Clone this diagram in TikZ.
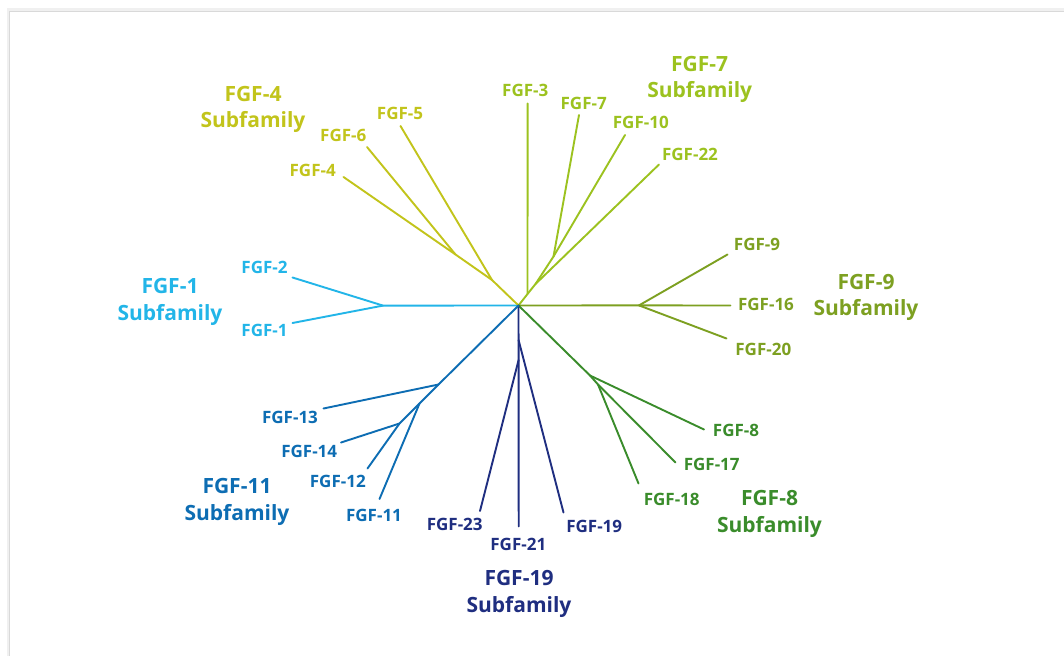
\documentclass[tikz,border=0pt]{standalone}
\usepackage{fontspec}
\setmainfont{Open Sans}[BoldFont={Open Sans Bold}]
\definecolor{cFa}{HTML}{22B5E8}
\definecolor{cFb}{HTML}{C2C41B}
\definecolor{cFc}{HTML}{9CC21F}
\definecolor{cFd}{HTML}{7DA021}
\definecolor{cFe}{HTML}{3A8C2B}
\definecolor{cFf}{HTML}{1F2E80}
\definecolor{cFg}{HTML}{0D6DB3}
\tikzset{
  br/.style={line width=1.9pt, line cap=round, line join=round},
  lab/.style={font=\bfseries\fontsize{17}{20}\selectfont, anchor=base, inner sep=0pt},
  fam/.style={font=\bfseries\fontsize{21}{26.5}\selectfont, anchor=base, align=center, inner sep=0pt},
}
\begin{document}
\begin{tikzpicture}[x=1pt,y=-1pt]
\useasboundingbox (0,0) rectangle (1064,655);
\fill[white] (0,0) rectangle (1064,655);
\draw[gray!12, line width=3pt] (8,657) -- (8,10) -- (1066,10);
\draw[gray!30, line width=0.6pt] (9.5,657) -- (9.5,11.5) -- (1066,11.5);
\fill[white] (10,12) rectangle (1064,655);

% root
\coordinate (root) at (518.5,305.5);

% FGF-1 subfamily
\coordinate (a1) at (383,305.6);
\coordinate (eF2) at (292.5,277.5);
\coordinate (eF1) at (292.5,323);
\draw[br,cFa] (root) -- (a1) -- (eF2);
\draw[br,cFa] (a1) -- (eF1);
\node[lab,text=cFa] (tF2) at (264.5,273) {FGF-2};
\node[lab,text=cFa] (tF1) at (264.5,336.5) {FGF-1};
\node[fam,text=cFa] (famA) at (170,320) {FGF-1\\Subfamily};

% FGF-4 subfamily
\coordinate (b2) at (492,280);
\coordinate (b1) at (455.5,254.5);
\coordinate (eF5) at (400.5,126);
\coordinate (eF6) at (367,147);
\coordinate (eF4) at (343.5,177);
\draw[br,cFb] (root) -- (b2) -- (b1) -- (eF4);
\draw[br,cFb] (b1) -- (eF6);
\draw[br,cFb] (b2) -- (eF5);
\node[lab,text=cFb] (tF5) at (400,120) {FGF-5};
\node[lab,text=cFb] (tF6) at (343.3,141.7) {FGF-6};
\node[lab,text=cFb] (tF4) at (312.7,176.7) {FGF-4};
\node[fam,text=cFb] (famB) at (253,127.7) {FGF-4\\Subfamily};

% FGF-7 subfamily
\coordinate (c0) at (527.5,294);
\coordinate (c1) at (535.5,284);
\coordinate (c2) at (553.5,256.5);
\coordinate (eF3) at (527.6,103.5);
\coordinate (eF7) at (579,115);
\coordinate (eF10) at (625,135);
\coordinate (eF22) at (659,164.5);
\draw[br,cFc] (root) -- (c0) -- (c1) -- (c2) -- (eF7);
\draw[br,cFc] (c0) -- (eF3);
\draw[br,cFc] (c2) -- (eF10);
\draw[br,cFc] (c1) -- (eF22);
\node[lab,text=cFc] (tF3) at (525.3,96.7) {FGF-3};
\node[lab,text=cFc] (tF7) at (583.7,110) {FGF-7};
\node[lab,text=cFc] (tF10) at (640.8,129) {FGF-10};
\node[lab,text=cFc] (tF22) at (690,160.7) {FGF-22};
\node[fam,text=cFc] (famC) at (699.7,97.7) {FGF-7\\Subfamily};

% FGF-9 subfamily
\coordinate (d1) at (639,305.4);
\coordinate (eF9) at (727.5,254.5);
\coordinate (eF16) at (730.5,305.5);
\coordinate (eF20) at (726.5,338.5);
\draw[br,cFd] (root) -- (d1) -- (eF16);
\draw[br,cFd] (d1) -- (eF9);
\draw[br,cFd] (d1) -- (eF20);
\node[lab,text=cFd] (tF9) at (757,250.7) {FGF-9};
\node[lab,text=cFd] (tF16) at (766,310.7) {FGF-16};
\node[lab,text=cFd] (tF20) at (763.3,355) {FGF-20};
\node[fam,text=cFd] (famD) at (866,315.7) {FGF-9\\Subfamily};

% FGF-8 subfamily
\coordinate (e1) at (590,375.5);
\coordinate (e2) at (598,384.5);
\coordinate (eF8) at (704,429.5);
\coordinate (eF17) at (675.5,462.5);
\coordinate (eF18) at (638.5,483.5);
\draw[br,cFe] (root) -- (e1) -- (e2) -- (eF18);
\draw[br,cFe] (e1) -- (eF8);
\draw[br,cFe] (e2) -- (eF17);
\node[lab,text=cFe] (tF8) at (736,436) {FGF-8};
\node[lab,text=cFe] (tF17) at (711.7,470) {FGF-17};
\node[lab,text=cFe] (tF18) at (671.7,505) {FGF-18};
\node[fam,text=cFe] (famE) at (769.5,532.3) {FGF-8\\Subfamily};

% FGF-19 subfamily
\coordinate (f1) at (518.55,340);
\coordinate (f2) at (518.6,360);
\coordinate (eF21) at (518.7,526.5);
\coordinate (eF19) at (563.5,512.5);
\coordinate (eF23) at (480,511);
\draw[br,cFf] (root) -- (f1) -- (f2) -- (eF21);
\draw[br,cFf] (f1) -- (eF19);
\draw[br,cFf] (f2) -- (eF23);
\node[lab,text=cFf] (tF23) at (454.7,530.7) {FGF-23};
\node[lab,text=cFf] (tF21) at (518.3,550) {FGF-21};
\node[lab,text=cFf] (tF19) at (594.2,532.7) {FGF-19};
\node[fam,text=cFf] (famF) at (519,612.3) {FGF-19\\Subfamily};

% FGF-11 subfamily
\coordinate (g1) at (438.5,384.5);
\coordinate (g2) at (419.5,403.5);
\coordinate (g3) at (399.5,423.5);
\coordinate (eF13) at (323.5,408.5);
\coordinate (eF14) at (341,442.5);
\coordinate (eF12) at (367.5,468.5);
\coordinate (eF11) at (379.5,499);
\draw[br,cFg] (root) -- (g1) -- (g2) -- (g3) -- (eF12);
\draw[br,cFg] (g1) -- (eF13);
\draw[br,cFg] (g2) -- (eF11);
\draw[br,cFg] (g3) -- (eF14);
\node[lab,text=cFg] (tF13) at (290,423.3) {FGF-13};
\node[lab,text=cFg] (tF14) at (309.2,457.7) {FGF-14};
\node[lab,text=cFg] (tF12) at (337.8,487.7) {FGF-12};
\node[lab,text=cFg] (tF11) at (374,521.7) {FGF-11};
\node[fam,text=cFg] (famG) at (237,520) {FGF-11\\Subfamily};
\end{tikzpicture}
\end{document}
